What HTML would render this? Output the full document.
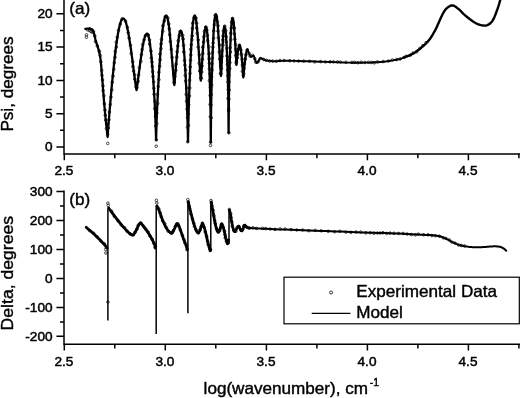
<!DOCTYPE html>
<html><head><meta charset="utf-8"><title>Ellipsometry Psi and Delta</title>
<style>html,body{margin:0;padding:0;background:#fff}svg{display:block}</style></head>
<body>
<svg width="520" height="398" viewBox="0 0 520 398">
<rect width="520" height="398" fill="#fff"/>
<g stroke="#000" stroke-width="1.5" fill="none" stroke-linecap="butt">
<path d="M64.0 0 V154.7 M63.3 154.0 H520"/>
<path d="M64.0 190.6 V345.0 M63.3 344.3 H520"/>
<path d="M64.3 154.0 v6.3 M165.3 154.0 v6.3 M266.4 154.0 v6.3 M367.4 154.0 v6.3 M468.4 154.0 v6.3 M114.8 154.0 v4.2 M215.8 154.0 v4.2 M316.9 154.0 v4.2 M417.9 154.0 v4.2 M518.9 154.0 v4.2 M64.3 344.3 v6.3 M165.3 344.3 v6.3 M266.4 344.3 v6.3 M367.4 344.3 v6.3 M468.4 344.3 v6.3 M114.8 344.3 v4.2 M215.8 344.3 v4.2 M316.9 344.3 v4.2 M417.9 344.3 v4.2 M518.9 344.3 v4.2"/>
<path d="M64.0 147.0 h-7.6 M64.0 113.7 h-7.6 M64.0 80.4 h-7.6 M64.0 47.1 h-7.6 M64.0 13.8 h-7.6 M64.0 130.3 h-4 M64.0 97.0 h-4 M64.0 63.8 h-4 M64.0 30.5 h-4 M64.0 336.3 h-7.6 M64.0 307.4 h-7.6 M64.0 278.4 h-7.6 M64.0 249.4 h-7.6 M64.0 220.5 h-7.6 M64.0 191.5 h-7.6 M64.0 321.9 h-4 M64.0 292.9 h-4 M64.0 263.9 h-4 M64.0 234.9 h-4 M64.0 206.0 h-4"/>
</g>
<g fill="none" stroke="#000" stroke-linejoin="round" stroke-linecap="round">
<path stroke-width="2.3" d="M85.3 28.8 L85.7 28.8 L86.2 28.8 L86.8 28.7 L87.4 28.7 L88.1 28.7 L88.8 28.7 L89.5 28.7 L90.0 28.8 L90.5 28.9 L90.9 29.0 L91.3 29.1 L91.7 29.2 L92.1 29.4 L92.5 29.7 L92.8 30.2 L93.2 30.8 L93.5 31.6 L93.8 32.6 L94.1 33.7 L94.4 35.0 L94.7 36.2 L95.0 37.6 L95.3 38.9 L95.6 40.1 L96.0 41.3 L96.3 42.5 L96.7 43.7 L97.1 44.9 L97.5 46.1 L97.9 47.4 L98.3 48.7 L98.6 50.0 L98.9 51.2 L99.2 52.2 L99.4 53.2 L99.7 54.2 L99.9 55.5 L100.2 57.1 L100.5 59.2 L100.8 62.0 L101.2 65.6 L101.5 70.0 L101.9 75.0 L102.4 80.4 L102.8 85.8 L103.2 91.0 L103.6 95.8 L103.9 100.0 L104.2 103.6 L104.5 106.8 L104.8 109.7 L105.0 112.4 L105.3 115.0 L105.5 117.4 L105.8 119.7 L106.0 122.0 L106.2 124.3 L106.5 126.6 L106.7 128.8 L106.9 130.9 L107.1 132.8 L107.3 134.5 L107.5 135.9 L107.6 137.0 L108.2 128.1 L108.9 119.9 L109.5 111.9 L110.2 104.2 L110.8 96.7 L111.5 89.4 L112.1 82.4 L112.8 75.7 L113.5 69.2 L114.1 63.0 L114.8 57.2 L115.4 51.7 L116.0 46.6 L116.7 41.9 L117.3 37.6 L118.0 33.6 L118.7 30.1 L119.3 27.1 L120.0 24.5 L120.6 22.3 L121.2 20.7 L121.9 19.5 L122.5 18.7 L123.2 18.5 L123.8 18.7 L124.3 19.2 L124.9 20.1 L125.4 21.3 L126.0 22.8 L126.5 24.7 L127.1 26.9 L127.6 29.4 L128.2 32.2 L128.7 35.2 L129.3 38.5 L129.8 42.0 L130.4 45.7 L131.0 49.6 L131.5 53.6 L132.1 57.8 L132.6 62.0 L133.2 66.3 L133.7 70.6 L134.3 74.9 L134.8 79.1 L135.4 83.1 L135.9 86.9 L136.5 90.0 L136.9 87.5 L137.4 84.6 L137.8 81.4 L138.2 78.1 L138.7 74.7 L139.1 71.3 L139.6 67.9 L140.0 64.6 L140.4 61.3 L140.9 58.1 L141.3 55.1 L141.8 52.1 L142.2 49.4 L142.6 46.8 L143.1 44.4 L143.5 42.2 L143.9 40.2 L144.4 38.5 L144.8 37.0 L145.2 35.8 L145.7 34.8 L146.1 34.2 L146.6 33.7 L147.0 33.6 L147.4 33.8 L147.8 34.3 L148.1 35.1 L148.5 36.3 L148.9 37.9 L149.3 39.7 L149.7 41.9 L150.0 44.5 L150.4 47.4 L150.8 50.6 L151.2 54.1 L151.6 58.0 L151.9 62.1 L152.3 66.7 L152.7 71.5 L153.1 76.7 L153.4 82.3 L153.8 88.2 L154.2 94.6 L154.6 101.4 L155.0 108.8 L155.3 116.9 L155.7 126.2 L156.1 140.0 L156.5 123.9 L156.9 113.0 L157.4 103.5 L157.8 94.8 L158.2 86.9 L158.6 79.4 L159.0 72.5 L159.5 66.0 L159.9 59.9 L160.3 54.2 L160.7 48.9 L161.1 44.0 L161.6 39.5 L162.0 35.3 L162.4 31.6 L162.8 28.2 L163.3 25.3 L163.7 22.7 L164.1 20.5 L164.5 18.7 L164.9 17.3 L165.4 16.3 L165.8 15.7 L166.2 15.5 L166.5 15.7 L166.9 16.2 L167.2 17.0 L167.5 18.2 L167.9 19.7 L168.2 21.5 L168.6 23.7 L168.9 26.1 L169.2 28.8 L169.6 31.7 L169.9 34.9 L170.2 38.3 L170.6 42.0 L170.9 45.7 L171.3 49.6 L171.6 53.7 L171.9 57.8 L172.3 62.0 L172.6 66.2 L173.0 70.3 L173.3 74.4 L173.6 78.3 L174.0 82.0 L174.3 85.0 L174.6 82.6 L174.8 79.8 L175.1 76.7 L175.4 73.5 L175.7 70.3 L175.9 67.0 L176.2 63.7 L176.5 60.5 L176.7 57.4 L177.0 54.3 L177.3 51.4 L177.6 48.5 L177.8 45.9 L178.1 43.4 L178.4 41.1 L178.6 39.0 L178.9 37.1 L179.2 35.4 L179.4 34.0 L179.7 32.8 L180.0 31.9 L180.3 31.2 L180.5 30.8 L180.8 30.7 L181.1 30.9 L181.4 31.4 L181.7 32.3 L182.0 33.6 L182.3 35.2 L182.6 37.1 L182.9 39.4 L183.2 42.1 L183.5 45.1 L183.8 48.4 L184.1 52.1 L184.4 56.1 L184.7 60.5 L185.0 65.2 L185.3 70.3 L185.6 75.7 L185.9 81.5 L186.2 87.7 L186.5 94.4 L186.8 101.5 L187.1 109.2 L187.4 117.7 L187.7 127.4 L188.0 141.8 L188.3 125.5 L188.6 114.4 L188.8 104.7 L189.1 96.0 L189.4 87.9 L189.7 80.3 L190.0 73.3 L190.2 66.7 L190.5 60.5 L190.8 54.8 L191.1 49.4 L191.3 44.4 L191.6 39.8 L191.9 35.6 L192.2 31.8 L192.5 28.4 L192.7 25.4 L193.0 22.8 L193.3 20.6 L193.6 18.7 L193.9 17.3 L194.1 16.3 L194.4 15.7 L194.7 15.5 L195.0 15.7 L195.2 16.1 L195.5 16.9 L195.7 18.0 L196.0 19.5 L196.2 21.2 L196.5 23.2 L196.7 25.4 L197.0 27.9 L197.2 30.7 L197.5 33.7 L197.8 36.9 L198.0 40.3 L198.3 43.8 L198.5 47.5 L198.8 51.3 L199.0 55.1 L199.3 59.0 L199.5 62.9 L199.8 66.8 L200.0 70.7 L200.3 74.3 L200.5 77.8 L200.8 80.6 L201.0 78.3 L201.2 75.4 L201.4 72.4 L201.7 69.2 L201.9 66.0 L202.1 62.7 L202.3 59.5 L202.5 56.3 L202.7 53.2 L202.9 50.1 L203.1 47.2 L203.4 44.4 L203.6 41.8 L203.8 39.3 L204.0 37.0 L204.2 34.9 L204.4 33.0 L204.6 31.4 L204.8 30.0 L205.1 28.8 L205.3 27.9 L205.5 27.2 L205.7 26.8 L205.9 26.7 L206.1 26.8 L206.3 27.2 L206.5 27.9 L206.7 28.9 L206.9 30.1 L207.1 31.6 L207.3 33.4 L207.5 35.5 L207.7 37.9 L207.9 40.5 L208.1 43.5 L208.4 46.8 L208.6 50.4 L208.8 54.3 L209.0 58.7 L209.2 63.4 L209.4 68.5 L209.6 74.2 L209.8 80.4 L210.0 87.4 L210.2 95.3 L210.4 104.6 L210.6 116.6 L210.8 142.4 L211.0 117.4 L211.2 104.6 L211.4 94.3 L211.6 85.4 L211.8 77.5 L212.1 70.3 L212.3 63.8 L212.5 57.8 L212.7 52.2 L212.9 47.1 L213.1 42.5 L213.3 38.2 L213.5 34.3 L213.7 30.7 L213.9 27.5 L214.1 24.7 L214.3 22.2 L214.6 20.1 L214.8 18.2 L215.0 16.7 L215.2 15.6 L215.4 14.8 L215.6 14.3 L215.8 14.1 L216.0 14.3 L216.2 14.7 L216.5 15.5 L216.7 16.5 L216.9 17.9 L217.1 19.5 L217.3 21.4 L217.5 23.5 L217.8 25.9 L218.0 28.6 L218.2 31.4 L218.4 34.4 L218.6 37.7 L218.8 41.0 L219.1 44.5 L219.3 48.1 L219.5 51.8 L219.7 55.5 L219.9 59.2 L220.1 62.9 L220.3 66.5 L220.6 70.0 L220.8 73.3 L221.0 76.0 L221.1 73.8 L221.3 71.2 L221.4 68.4 L221.6 65.5 L221.7 62.5 L221.9 59.5 L222.0 56.6 L222.2 53.6 L222.3 50.7 L222.5 47.9 L222.6 45.2 L222.8 42.6 L222.9 40.2 L223.0 37.9 L223.2 35.8 L223.3 33.9 L223.5 32.1 L223.6 30.6 L223.8 29.3 L223.9 28.2 L224.1 27.4 L224.2 26.8 L224.4 26.4 L224.5 26.3 L224.7 26.4 L224.8 26.8 L225.0 27.4 L225.2 28.3 L225.4 29.5 L225.5 30.8 L225.7 32.5 L225.9 34.4 L226.0 36.6 L226.2 39.1 L226.4 41.8 L226.6 44.8 L226.7 48.1 L226.9 51.8 L227.1 55.8 L227.2 60.1 L227.4 64.9 L227.6 70.1 L227.7 75.8 L227.9 82.3 L228.1 89.6 L228.3 98.2 L228.4 109.2 L228.6 133.0 L228.8 110.7 L228.9 99.2 L229.1 90.0 L229.2 82.0 L229.4 74.9 L229.6 68.5 L229.7 62.7 L229.9 57.3 L230.1 52.4 L230.2 47.8 L230.4 43.7 L230.6 39.8 L230.7 36.3 L230.9 33.2 L231.0 30.3 L231.2 27.8 L231.4 25.6 L231.5 23.6 L231.7 22.0 L231.8 20.7 L232.0 19.6 L232.2 18.9 L232.3 18.4 L232.5 18.3 L232.7 18.4 L232.8 18.7 L233.0 19.2 L233.2 19.9 L233.3 20.8 L233.5 21.8 L233.6 23.1 L233.8 24.5 L234.0 26.1 L234.1 27.9 L234.3 29.8 L234.4 31.9 L234.6 34.1 L234.8 36.5 L234.9 39.0 L235.1 41.5 L235.3 44.2 L235.4 47.0 L235.6 49.9 L235.8 52.8 L235.9 55.7 L236.1 58.7 L236.2 61.8 L236.4 64.8 L236.5 63.5 L236.7 62.2 L236.8 61.0 L236.9 59.7 L237.0 58.5 L237.2 57.3 L237.3 56.1 L237.4 54.9 L237.6 53.9 L237.7 52.8 L237.8 51.8 L237.9 50.9 L238.1 50.0 L238.2 49.2 L238.3 48.4 L238.5 47.7 L238.6 47.1 L238.7 46.6 L238.9 46.1 L239.0 45.8 L239.1 45.5 L239.2 45.3 L239.4 45.1 L239.5 45.1 L239.7 45.2 L239.8 45.4 L240.0 45.7 L240.1 46.2 L240.3 46.8 L240.4 47.6 L240.6 48.4 L240.8 49.4 L240.9 50.5 L241.1 51.8 L241.2 53.1 L241.4 54.6 L241.6 56.1 L241.7 57.7 L241.9 59.5 L242.0 61.2 L242.2 63.1 L242.4 65.0 L242.5 67.0 L242.7 69.0 L242.8 71.1 L243.0 73.2 L243.1 75.3 L243.3 77.4 L243.5 75.6 L243.7 73.8 L243.8 72.0 L244.0 70.2 L244.2 68.5 L244.4 66.8 L244.5 65.1 L244.7 63.5 L244.9 62.0 L245.1 60.5 L245.2 59.1 L245.4 57.7 L245.6 56.5 L245.8 55.3 L245.9 54.3 L246.1 53.3 L246.3 52.5 L246.4 51.7 L246.6 51.1 L246.8 50.5 L247.0 50.1 L247.2 49.8 L247.3 49.7 L247.5 49.6"/>
<path stroke-width="1.9" d="M247.5 49.6 L247.8 50.2 L248.1 51.1 L248.5 52.1 L249.0 53.3 L249.5 54.4 L249.9 55.4 L250.4 56.2 L250.8 56.8 L251.2 57.0 L251.5 56.9 L251.9 56.7 L252.2 56.3 L252.5 55.9 L252.9 55.7 L253.2 55.6 L253.6 55.8 L254.0 56.4 L254.4 57.3 L254.7 58.4 L255.1 59.6 L255.5 60.8 L256.0 61.9 L256.4 62.6 L256.8 63.0 L257.2 62.9 L257.7 62.5 L258.1 61.8 L258.6 60.9 L259.0 60.0 L259.5 59.2 L260.0 58.6 L260.5 58.2 L261.0 58.1 L261.6 58.3 L262.1 58.5 L262.7 58.9 L263.2 59.3 L263.8 59.6 L264.4 60.0 L265.0 60.2 L265.6 60.3 L266.2 60.5 L266.8 60.5 L267.5 60.6 L268.1 60.7 L268.7 60.7 L269.4 60.7 L270.0 60.8 L270.6 60.9 L271.0 60.9 L271.4 61.0 L271.9 61.1 L272.4 61.1 L273.0 61.2 L273.9 61.2 L275.0 61.2 L276.2 61.2 L277.5 61.1 L278.8 61.0 L280.3 61.0 L282.1 60.9 L284.3 60.8 L286.9 60.8 L290.0 60.8 L293.9 60.9 L298.6 61.0 L303.8 61.2 L309.4 61.3 L315.0 61.5 L320.5 61.7 L325.5 61.9 L330.0 62.0 L333.8 62.1 L337.3 62.2 L340.4 62.4 L343.4 62.5 L346.2 62.6 L349.1 62.6 L351.9 62.7 L355.0 62.7 L358.2 62.7 L361.5 62.7 L364.9 62.6 L368.3 62.6 L371.6 62.5 L374.8 62.3 L377.8 62.2 L380.6 62.0 L383.3 61.8 L385.8 61.5 L388.3 61.1 L390.6 60.7 L392.8 60.4 L394.7 60.0 L396.5 59.7 L398.0 59.4 L399.1 59.2 L399.9 59.1 L400.3 59.0 L400.6 58.9 L400.9 58.8 L401.2 58.6 L401.7 58.4 L402.6 58.0 L403.8 57.5 L405.1 57.0"/>
<path stroke-width="2.4" d="M405.1 57.0 L406.7 56.4 L408.3 55.8 L410.0 55.1 L411.7 54.3 L413.4 53.4 L415.0 52.4 L416.6 51.3 L418.3 50.1 L420.0 48.8 L421.6 47.4 L423.3 45.9 L424.9 44.5 L426.4 43.0 L427.7 41.6 L428.9 40.2 L430.0 38.9 L430.9 37.5 L431.8 36.1 L432.7 34.7 L433.5 33.2 L434.4 31.7 L435.3 30.0 L436.3 28.1 L437.2 26.0 L438.2 23.8 L439.2 21.6 L440.2 19.3 L441.1 17.3 L442.0 15.4 L442.8 13.8 L443.5 12.5 L444.2 11.5 L444.7 10.6 L445.3 9.8 L445.8 9.2 L446.3 8.6 L446.9 8.1 L447.5 7.6 L448.1 7.1 L448.8 6.7 L449.5 6.3 L450.1 5.9 L450.8 5.7 L451.5 5.5 L452.2 5.5 L452.9 5.5 L453.6 5.6 L454.3 5.9 L454.9 6.3 L455.6 6.7 L456.3 7.2 L457.0 7.8 L457.7 8.4 L458.5 9.0 L459.3 9.7 L460.1 10.4 L460.9 11.2 L461.7 12.1 L462.5 12.9 L463.4 13.8 L464.4 14.7 L465.4 15.6 L466.5 16.5 L467.7 17.5 L469.0 18.5 L470.3 19.6 L471.7 20.5 L473.0 21.5 L474.3 22.3 L475.5 23.0 L476.7 23.6 L477.9 24.1 L479.0 24.5 L480.2 24.9 L481.3 25.2 L482.3 25.4 L483.4 25.5 L484.3 25.6 L485.2 25.6 L486.0 25.5 L486.7 25.3 L487.5 25.1 L488.1 24.7 L488.8 24.4 L489.4 24.0 L490.0 23.5 L490.6 23.0 L491.1 22.5 L491.6 21.9 L492.1 21.3 L492.6 20.6 L493.0 19.8 L493.5 19.0 L494.0 18.0 L494.5 16.9 L495.0 15.6 L495.6 14.3 L496.1 12.9 L496.6 11.4 L497.1 10.0 L497.6 8.7 L498.0 7.5 L498.4 6.4 L498.7 5.3 L499.1 4.2 L499.4 3.2 L499.6 2.3 L499.8 1.5 L500.0 0.8 L500.2 0.3"/>
<path stroke-width="2.8" d="M86.2 227.3 L87.1 228.1 L88.4 229.2 L90.0 230.5 L91.6 231.9 L93.3 233.5 L95.0 235.0 L96.7 236.7 L98.6 238.6 L100.6 240.6 L102.4 242.6 L104.1 244.3 L105.3 245.6 L106.1 246.5 L106.6 247.1 L106.8 247.5 L106.9 247.7 L106.9 247.8 L107.0 248.0"/>
<path stroke-width="2.8" d="M108.6 208.0 L108.7 208.1 L108.6 208.1 L108.7 208.2 L108.8 208.4 L109.3 209.0 L110.0 210.0 L111.2 211.6 L112.8 213.7 L114.6 216.1 L116.5 218.6 L118.3 220.9 L120.0 223.0 L121.5 224.8 L122.9 226.5 L124.4 228.1 L125.7 229.6 L126.9 230.9 L128.0 232.0 L129.0 232.9 L129.8 233.6 L130.5 234.2 L131.2 234.6 L131.8 234.9 L132.4 235.0 L132.9 235.0 L133.4 234.8 L133.8 234.4 L134.1 233.9 L134.5 233.3 L135.0 232.6 L135.5 231.6 L136.1 230.4 L136.7 229.1 L137.3 227.8 L137.9 226.6 L138.4 225.6 L138.8 224.9 L139.2 224.2 L139.5 223.7 L139.8 223.3 L140.2 223.1 L140.5 223.0 L140.8 223.0 L141.0 223.1 L141.3 223.4 L141.6 223.8 L142.0 224.4 L142.6 225.2 L143.4 226.3 L144.4 227.6 L145.6 229.1 L146.8 230.7 L147.9 232.4 L149.0 234.0 L150.0 235.7 L151.1 237.6 L152.1 239.5 L153.1 241.4 L153.9 243.0 L154.6 244.4 L155.0 245.4 L155.3 246.2 L155.4 246.9 L155.5 247.3 L155.5 247.7 L155.6 248.0"/>
<path stroke-width="2.8" d="M157.0 206.0 L157.1 206.2 L157.3 206.4 L157.5 206.8 L157.7 207.2 L158.1 207.9 L158.5 209.0 L159.1 210.5 L159.8 212.5 L160.6 214.7 L161.4 217.0 L162.2 219.1 L163.0 221.0 L163.7 222.6 L164.4 224.1 L165.0 225.5 L165.7 226.8 L166.3 227.9 L167.0 229.0 L167.7 230.0 L168.5 231.0 L169.3 231.8 L170.1 232.5 L170.8 233.0 L171.4 233.3 L171.9 233.3 L172.3 233.0 L172.6 232.5 L172.9 231.9 L173.2 231.2 L173.6 230.5 L174.0 229.7 L174.4 228.8 L174.9 227.8 L175.3 226.8 L175.7 225.9 L176.0 225.2 L176.3 224.7 L176.5 224.3 L176.7 223.9 L176.9 223.7 L177.1 223.6 L177.3 223.6 L177.5 223.6 L177.6 223.5 L177.8 223.6 L178.0 223.9 L178.3 224.5 L178.8 225.6 L179.5 227.4 L180.4 229.8 L181.3 232.5 L182.3 235.3 L183.2 237.9 L184.0 240.0 L184.6 241.6 L185.1 243.0 L185.6 244.2 L186.0 245.3 L186.3 246.2 L186.6 247.0 L186.8 247.7 L187.0 248.3 L187.2 248.7 L187.3 249.0 L187.3 249.3 L187.4 249.5"/>
<path stroke-width="2.8" d="M188.5 202.0 L188.6 202.4 L188.7 203.0 L188.8 203.6 L188.9 204.5 L189.2 205.6 L189.5 207.0 L189.9 208.9 L190.5 211.2 L191.1 213.8 L191.8 216.4 L192.4 218.9 L193.0 221.0 L193.5 222.9 L194.1 224.6 L194.6 226.2 L195.1 227.6 L195.5 228.9 L196.0 230.0 L196.4 230.9 L196.8 231.6 L197.2 232.2 L197.6 232.6 L198.0 232.8 L198.3 232.9 L198.6 232.8 L198.9 232.4 L199.2 231.9 L199.5 231.3 L199.7 230.6 L200.0 230.0 L200.3 229.3 L200.5 228.5 L200.8 227.7 L201.0 226.9 L201.3 226.1 L201.5 225.5 L201.7 224.9 L201.9 224.4 L202.1 223.9 L202.2 223.5 L202.4 223.4 L202.7 223.6 L203.0 224.1 L203.4 224.9 L203.7 225.9 L204.1 227.1 L204.6 228.5 L205.0 230.0 L205.5 231.8 L206.0 234.1 L206.5 236.4 L207.0 238.8 L207.5 241.1 L208.0 243.0 L208.4 244.6 L208.8 246.2 L209.2 247.5 L209.5 248.7 L209.8 249.7 L210.0 250.4 L210.2 250.8 L210.3 250.8 L210.4 250.7 L210.5 250.4 L210.6 250.1 L210.6 250.0"/>
<path stroke-width="2.8" d="M211.2 202.0 L211.3 202.3 L211.3 202.7 L211.4 203.1 L211.6 203.8 L211.8 204.7 L212.0 206.0 L212.3 207.8 L212.7 210.1 L213.2 212.7 L213.6 215.3 L214.1 217.8 L214.5 220.0 L214.9 221.9 L215.2 223.6 L215.5 225.2 L215.9 226.6 L216.2 227.9 L216.5 229.0 L216.8 230.0 L217.2 230.8 L217.5 231.4 L217.8 231.9 L218.1 232.2 L218.4 232.3 L218.7 232.1 L219.0 231.7 L219.3 231.1 L219.5 230.4 L219.8 229.6 L220.0 229.0 L220.2 228.4 L220.4 227.8 L220.5 227.1 L220.7 226.5 L220.8 226.0 L221.0 225.5 L221.2 225.0 L221.3 224.6 L221.4 224.2 L221.6 223.9 L221.8 223.8 L222.0 224.0 L222.3 224.5 L222.6 225.3 L222.9 226.3 L223.3 227.5 L223.7 228.7 L224.0 230.0 L224.3 231.4 L224.7 232.9 L225.0 234.6 L225.4 236.2 L225.7 237.7 L226.0 239.0 L226.3 240.1 L226.6 241.2 L226.8 242.2 L227.1 243.0 L227.3 243.5 L227.5 243.8 L227.7 243.6 L227.9 243.0 L228.1 242.2 L228.3 241.3 L228.4 240.5 L228.5 240.0"/>
<path stroke-width="2.7" d="M229.3 210.0 L229.4 210.3 L229.6 210.7 L229.8 211.2 L230.0 211.9 L230.2 212.8 L230.5 214.0 L230.8 215.6 L231.1 217.6 L231.4 219.9 L231.8 222.2 L232.2 224.3 L232.5 226.0 L232.8 227.4 L233.2 228.7 L233.5 229.8 L233.8 230.7 L234.2 231.3 L234.5 231.7 L234.8 231.7 L235.2 231.4 L235.5 230.9 L235.8 230.2 L236.2 229.6 L236.5 229.0 L236.8 228.5 L237.2 227.8 L237.5 227.2 L237.9 226.6 L238.2 226.2 L238.5 226.0 L238.8 226.1 L239.0 226.4 L239.3 226.9 L239.5 227.5 L239.8 228.0 L240.0 228.5 L240.2 229.0 L240.5 229.5 L240.8 230.0 L241.0 230.5 L241.2 230.8 L241.5 231.0 L241.7 231.0 L242.0 230.7 L242.2 230.4 L242.5 230.0 L242.7 229.5 L243.0 229.0 L243.3 228.4 L243.5 227.6 L243.8 226.8 L244.0 226.0 L244.3 225.3 L244.6 225.0 L244.9 225.0 L245.2 225.3 L245.5 225.7 L245.8 226.2 L246.2 226.7 L246.5 227.0 L246.8 227.2 L247.1 227.4 L247.4 227.6 L247.8 227.8 L248.1 227.9 L248.6 228.0 L249.0 228.1 L249.3 228.1 L249.6 228.1 L250.2 228.1"/>
<path stroke-width="2.0" d="M250.2 228.1 L251.1 228.1 L252.6 228.2 L254.5 228.3 L256.8 228.4 L259.5 228.5 L262.5 228.7 L266.0 228.8 L270.0 229.0 L274.6 229.2 L279.7 229.4 L285.3 229.6 L291.1 229.8 L297.1 230.0 L303.0 230.2 L309.0 230.4 L315.3 230.7 L321.7 230.9 L328.0 231.1 L334.2 231.4 L340.0 231.6 L345.5 231.8 L350.9 232.0 L356.1 232.2 L361.0 232.4 L365.7 232.6 L370.0 232.7 L373.9 232.8 L377.2 232.9 L380.3 232.9 L383.3 233.0 L386.5 233.1 L390.0 233.2 L394.0 233.4 L398.3 233.6 L402.8 233.8 L407.2 234.0 L411.4 234.2 L415.0 234.4 L418.2 234.5 L421.0 234.7 L423.6 234.8 L425.9 234.9 L428.0 235.0 L430.0 235.1 L431.8 235.2 L433.3 235.3 L434.6 235.5 L435.7 235.6 L436.8 235.7 L437.8 235.9 L438.7 236.0 L439.4 236.2 L440.0 236.3 L440.6 236.5 L441.2 236.7 L442.0 237.0 L442.9 237.4 L443.8 237.8 L444.8 238.2 L445.8 238.7 L446.8 239.2 L447.8 239.7 L448.8 240.2 L449.8 240.7 L450.9 241.3 L451.9 241.8 L453.0 242.3 L454.0 242.8 L455.1 243.3 L456.1 243.7 L457.2 244.2 L458.2 244.6 L459.3 245.0 L460.4 245.3 L461.5 245.6 L462.5 245.8 L463.6 246.1 L464.7 246.3 L465.8 246.4 L467.0 246.6 L468.3 246.8 L469.7 246.9 L471.2 247.0 L472.7 247.2 L474.1 247.2 L475.5 247.3 L476.8 247.3 L478.1 247.3 L479.3 247.3 L480.5 247.2 L481.8 247.2 L483.0 247.1 L484.3 247.0 L485.6 246.9 L486.9 246.8 L488.2 246.7 L489.5 246.6 L490.6 246.5 L491.6 246.4 L492.6 246.4 L493.5 246.3 L494.3 246.3 L495.2 246.3 L496.0 246.3 L496.8 246.4 L497.6 246.4 L498.4 246.5 L499.2 246.7 L499.9 246.8 L500.6 247.0 L501.3 247.2 L501.9 247.5 L502.5 247.8 L503.0 248.1 L503.5 248.4 L504.0 248.7 L504.5 249.1 L504.9 249.4 L505.3 249.9 L505.7 250.2 L506.0 250.6 L506.2 250.8"/>
<path stroke-width="1.5" stroke-linecap="butt" d="M107.9 208.5 V320.4"/>
<path stroke-width="1.5" stroke-linecap="butt" d="M156.2 205.5 V334"/>
<path stroke-width="1.5" stroke-linecap="butt" d="M187.9 202.5 V313.3"/>
<path stroke-width="1.5" stroke-linecap="butt" d="M210.8 202.5 V250.4"/>
<path stroke-width="1.5" stroke-linecap="butt" d="M229.0 210.5 V243.8"/>
</g>
<g fill="none" stroke="#000" stroke-width="0.7">
<circle cx="89.8" cy="28.8" r="1.3"/>
<circle cx="93.4" cy="31.7" r="1.3"/>
<circle cx="94.8" cy="35.9" r="1.3"/>
<circle cx="95.5" cy="41.6" r="1.3"/>
<circle cx="97.3" cy="45.9" r="1.3"/>
<circle cx="99.4" cy="51.2" r="1.3"/>
<circle cx="100.2" cy="55.5" r="1.3"/>
<circle cx="100.9" cy="61.7" r="1.3"/>
<circle cx="101.7" cy="70.4" r="1.3"/>
<circle cx="102.0" cy="75.3" r="1.3"/>
<circle cx="102.5" cy="80.0" r="1.3"/>
<circle cx="103.0" cy="85.9" r="1.3"/>
<circle cx="103.0" cy="90.6" r="1.3"/>
<circle cx="103.9" cy="95.8" r="1.3"/>
<circle cx="104.4" cy="103.9" r="1.3"/>
<circle cx="105.0" cy="110.1" r="1.3"/>
<circle cx="105.2" cy="115.2" r="1.3"/>
<circle cx="105.7" cy="120.1" r="1.3"/>
<circle cx="106.6" cy="124.0" r="1.3"/>
<circle cx="106.4" cy="128.5" r="1.3"/>
<circle cx="107.7" cy="134.4" r="1.3"/>
<circle cx="108.4" cy="127.9" r="1.3"/>
<circle cx="108.9" cy="119.8" r="1.3"/>
<circle cx="109.4" cy="112.0" r="1.3"/>
<circle cx="110.3" cy="104.5" r="1.3"/>
<circle cx="111.0" cy="97.1" r="1.3"/>
<circle cx="111.8" cy="89.9" r="1.3"/>
<circle cx="112.3" cy="82.1" r="1.3"/>
<circle cx="113.1" cy="76.1" r="1.3"/>
<circle cx="113.8" cy="69.3" r="1.3"/>
<circle cx="114.3" cy="62.8" r="1.3"/>
<circle cx="115.0" cy="57.3" r="1.3"/>
<circle cx="115.2" cy="51.4" r="1.3"/>
<circle cx="116.4" cy="47.1" r="1.3"/>
<circle cx="116.3" cy="42.2" r="1.3"/>
<circle cx="117.3" cy="37.2" r="1.3"/>
<circle cx="118.5" cy="30.4" r="1.3"/>
<circle cx="120.3" cy="24.1" r="1.3"/>
<circle cx="122.0" cy="19.1" r="1.3"/>
<circle cx="125.6" cy="21.1" r="1.3"/>
<circle cx="127.4" cy="27.3" r="1.3"/>
<circle cx="128.2" cy="32.6" r="1.3"/>
<circle cx="129.1" cy="38.1" r="1.3"/>
<circle cx="130.5" cy="45.3" r="1.3"/>
<circle cx="131.2" cy="53.5" r="1.3"/>
<circle cx="132.7" cy="61.7" r="1.3"/>
<circle cx="132.8" cy="66.6" r="1.3"/>
<circle cx="133.6" cy="71.0" r="1.3"/>
<circle cx="134.6" cy="74.8" r="1.3"/>
<circle cx="134.8" cy="79.1" r="1.3"/>
<circle cx="136.1" cy="87.0" r="1.3"/>
<circle cx="137.0" cy="87.7" r="1.3"/>
<circle cx="138.2" cy="81.4" r="1.3"/>
<circle cx="138.6" cy="74.9" r="1.3"/>
<circle cx="139.3" cy="67.7" r="1.3"/>
<circle cx="140.9" cy="61.3" r="1.3"/>
<circle cx="141.4" cy="54.6" r="1.3"/>
<circle cx="142.1" cy="49.4" r="1.3"/>
<circle cx="142.6" cy="44.5" r="1.3"/>
<circle cx="144.1" cy="39.8" r="1.3"/>
<circle cx="145.4" cy="35.8" r="1.3"/>
<circle cx="148.3" cy="35.0" r="1.3"/>
<circle cx="149.5" cy="39.9" r="1.3"/>
<circle cx="149.6" cy="44.1" r="1.3"/>
<circle cx="151.0" cy="51.0" r="1.3"/>
<circle cx="151.3" cy="57.9" r="1.3"/>
<circle cx="152.0" cy="62.0" r="1.3"/>
<circle cx="152.2" cy="66.5" r="1.3"/>
<circle cx="152.6" cy="71.6" r="1.3"/>
<circle cx="152.9" cy="76.6" r="1.3"/>
<circle cx="153.7" cy="81.9" r="1.3"/>
<circle cx="153.9" cy="88.4" r="1.3"/>
<circle cx="154.0" cy="94.3" r="1.3"/>
<circle cx="154.9" cy="101.2" r="1.3"/>
<circle cx="154.7" cy="108.7" r="1.3"/>
<circle cx="155.5" cy="116.5" r="1.3"/>
<circle cx="155.6" cy="126.1" r="1.3"/>
<circle cx="156.4" cy="139.9" r="1.3"/>
<circle cx="156.8" cy="123.6" r="1.3"/>
<circle cx="156.8" cy="113.1" r="1.3"/>
<circle cx="157.7" cy="103.4" r="1.3"/>
<circle cx="157.5" cy="94.5" r="1.3"/>
<circle cx="158.2" cy="86.6" r="1.3"/>
<circle cx="158.9" cy="79.7" r="1.3"/>
<circle cx="158.8" cy="72.3" r="1.3"/>
<circle cx="159.7" cy="66.1" r="1.3"/>
<circle cx="160.2" cy="59.7" r="1.3"/>
<circle cx="160.0" cy="54.0" r="1.3"/>
<circle cx="161.0" cy="48.7" r="1.3"/>
<circle cx="161.0" cy="43.9" r="1.3"/>
<circle cx="161.5" cy="39.4" r="1.3"/>
<circle cx="162.8" cy="31.3" r="1.3"/>
<circle cx="162.8" cy="25.7" r="1.3"/>
<circle cx="164.4" cy="20.9" r="1.3"/>
<circle cx="165.3" cy="16.7" r="1.3"/>
<circle cx="167.9" cy="18.0" r="1.3"/>
<circle cx="168.8" cy="24.0" r="1.3"/>
<circle cx="169.4" cy="28.8" r="1.3"/>
<circle cx="169.7" cy="34.8" r="1.3"/>
<circle cx="170.3" cy="41.6" r="1.3"/>
<circle cx="171.3" cy="49.5" r="1.3"/>
<circle cx="172.2" cy="57.4" r="1.3"/>
<circle cx="173.0" cy="66.3" r="1.3"/>
<circle cx="173.7" cy="74.7" r="1.3"/>
<circle cx="174.3" cy="82.0" r="1.3"/>
<circle cx="174.1" cy="82.9" r="1.3"/>
<circle cx="174.8" cy="76.5" r="1.3"/>
<circle cx="175.8" cy="70.3" r="1.3"/>
<circle cx="176.1" cy="64.1" r="1.3"/>
<circle cx="176.8" cy="57.2" r="1.3"/>
<circle cx="177.1" cy="51.7" r="1.3"/>
<circle cx="177.8" cy="46.1" r="1.3"/>
<circle cx="178.2" cy="40.8" r="1.3"/>
<circle cx="179.2" cy="35.7" r="1.3"/>
<circle cx="180.0" cy="31.5" r="1.3"/>
<circle cx="182.7" cy="35.4" r="1.3"/>
<circle cx="183.2" cy="39.0" r="1.3"/>
<circle cx="183.6" cy="45.4" r="1.3"/>
<circle cx="183.7" cy="51.9" r="1.3"/>
<circle cx="184.5" cy="60.5" r="1.3"/>
<circle cx="184.9" cy="65.2" r="1.3"/>
<circle cx="185.5" cy="69.9" r="1.3"/>
<circle cx="185.2" cy="75.4" r="1.3"/>
<circle cx="185.6" cy="81.2" r="1.3"/>
<circle cx="186.6" cy="88.1" r="1.3"/>
<circle cx="186.1" cy="94.4" r="1.3"/>
<circle cx="186.6" cy="101.3" r="1.3"/>
<circle cx="187.0" cy="109.3" r="1.3"/>
<circle cx="187.5" cy="117.5" r="1.3"/>
<circle cx="187.4" cy="127.3" r="1.3"/>
<circle cx="187.7" cy="141.8" r="1.3"/>
<circle cx="188.5" cy="125.4" r="1.3"/>
<circle cx="188.2" cy="114.1" r="1.3"/>
<circle cx="188.7" cy="104.8" r="1.3"/>
<circle cx="189.4" cy="95.9" r="1.3"/>
<circle cx="189.7" cy="88.0" r="1.3"/>
<circle cx="189.6" cy="80.2" r="1.3"/>
<circle cx="190.0" cy="73.5" r="1.3"/>
<circle cx="190.2" cy="66.9" r="1.3"/>
<circle cx="190.5" cy="60.3" r="1.3"/>
<circle cx="190.8" cy="54.9" r="1.3"/>
<circle cx="190.7" cy="49.3" r="1.3"/>
<circle cx="191.3" cy="44.8" r="1.3"/>
<circle cx="192.0" cy="39.7" r="1.3"/>
<circle cx="192.3" cy="35.9" r="1.3"/>
<circle cx="192.3" cy="28.4" r="1.3"/>
<circle cx="192.7" cy="23.1" r="1.3"/>
<circle cx="194.0" cy="17.7" r="1.3"/>
<circle cx="196.0" cy="18.2" r="1.3"/>
<circle cx="196.7" cy="23.2" r="1.3"/>
<circle cx="196.6" cy="28.0" r="1.3"/>
<circle cx="197.1" cy="33.4" r="1.3"/>
<circle cx="198.3" cy="39.9" r="1.3"/>
<circle cx="198.1" cy="47.1" r="1.3"/>
<circle cx="199.4" cy="54.8" r="1.3"/>
<circle cx="199.1" cy="63.3" r="1.3"/>
<circle cx="199.7" cy="71.0" r="1.3"/>
<circle cx="200.7" cy="78.1" r="1.3"/>
<circle cx="201.4" cy="78.3" r="1.3"/>
<circle cx="201.7" cy="72.0" r="1.3"/>
<circle cx="202.1" cy="66.0" r="1.3"/>
<circle cx="202.5" cy="59.2" r="1.3"/>
<circle cx="202.9" cy="53.6" r="1.3"/>
<circle cx="202.7" cy="47.1" r="1.3"/>
<circle cx="203.6" cy="42.1" r="1.3"/>
<circle cx="203.8" cy="36.7" r="1.3"/>
<circle cx="204.4" cy="31.5" r="1.3"/>
<circle cx="205.7" cy="27.1" r="1.3"/>
<circle cx="206.8" cy="30.0" r="1.3"/>
<circle cx="207.4" cy="35.4" r="1.3"/>
<circle cx="207.6" cy="40.5" r="1.3"/>
<circle cx="208.8" cy="46.7" r="1.3"/>
<circle cx="209.0" cy="54.0" r="1.3"/>
<circle cx="209.1" cy="58.9" r="1.3"/>
<circle cx="209.3" cy="63.4" r="1.3"/>
<circle cx="209.4" cy="68.7" r="1.3"/>
<circle cx="209.9" cy="73.9" r="1.3"/>
<circle cx="209.4" cy="80.6" r="1.3"/>
<circle cx="210.4" cy="87.4" r="1.3"/>
<circle cx="210.1" cy="95.5" r="1.3"/>
<circle cx="210.1" cy="104.4" r="1.3"/>
<circle cx="210.3" cy="116.7" r="1.3"/>
<circle cx="210.6" cy="142.2" r="1.3"/>
<circle cx="211.2" cy="117.8" r="1.3"/>
<circle cx="211.0" cy="104.8" r="1.3"/>
<circle cx="211.3" cy="94.6" r="1.3"/>
<circle cx="211.7" cy="85.2" r="1.3"/>
<circle cx="211.6" cy="77.0" r="1.3"/>
<circle cx="212.0" cy="70.2" r="1.3"/>
<circle cx="212.0" cy="63.6" r="1.3"/>
<circle cx="212.3" cy="58.0" r="1.3"/>
<circle cx="212.4" cy="52.7" r="1.3"/>
<circle cx="212.9" cy="47.2" r="1.3"/>
<circle cx="213.1" cy="42.8" r="1.3"/>
<circle cx="213.6" cy="38.2" r="1.3"/>
<circle cx="213.7" cy="30.9" r="1.3"/>
<circle cx="214.5" cy="24.6" r="1.3"/>
<circle cx="214.8" cy="20.5" r="1.3"/>
<circle cx="215.1" cy="15.3" r="1.3"/>
<circle cx="216.4" cy="16.7" r="1.3"/>
<circle cx="217.5" cy="21.8" r="1.3"/>
<circle cx="218.1" cy="25.7" r="1.3"/>
<circle cx="217.9" cy="31.2" r="1.3"/>
<circle cx="218.3" cy="37.8" r="1.3"/>
<circle cx="219.4" cy="44.9" r="1.3"/>
<circle cx="219.3" cy="52.1" r="1.3"/>
<circle cx="219.7" cy="59.1" r="1.3"/>
<circle cx="220.6" cy="66.2" r="1.3"/>
<circle cx="220.4" cy="73.6" r="1.3"/>
<circle cx="221.0" cy="73.7" r="1.3"/>
<circle cx="221.5" cy="68.6" r="1.3"/>
<circle cx="221.3" cy="62.4" r="1.3"/>
<circle cx="222.0" cy="56.5" r="1.3"/>
<circle cx="222.1" cy="50.8" r="1.3"/>
<circle cx="223.0" cy="45.1" r="1.3"/>
<circle cx="222.9" cy="39.9" r="1.3"/>
<circle cx="223.0" cy="36.0" r="1.3"/>
<circle cx="223.3" cy="31.0" r="1.3"/>
<circle cx="224.7" cy="26.1" r="1.3"/>
<circle cx="225.9" cy="30.7" r="1.3"/>
<circle cx="226.3" cy="36.8" r="1.3"/>
<circle cx="226.2" cy="42.0" r="1.3"/>
<circle cx="226.9" cy="48.4" r="1.3"/>
<circle cx="226.9" cy="56.0" r="1.3"/>
<circle cx="227.6" cy="60.3" r="1.3"/>
<circle cx="227.4" cy="64.5" r="1.3"/>
<circle cx="227.6" cy="70.0" r="1.3"/>
<circle cx="227.9" cy="76.0" r="1.3"/>
<circle cx="228.0" cy="82.0" r="1.3"/>
<circle cx="228.2" cy="89.7" r="1.3"/>
<circle cx="228.0" cy="98.5" r="1.3"/>
<circle cx="228.6" cy="108.9" r="1.3"/>
<circle cx="229.0" cy="132.7" r="1.3"/>
<circle cx="228.6" cy="110.9" r="1.3"/>
<circle cx="229.0" cy="99.2" r="1.3"/>
<circle cx="229.2" cy="89.9" r="1.3"/>
<circle cx="229.1" cy="81.7" r="1.3"/>
<circle cx="229.0" cy="75.1" r="1.3"/>
<circle cx="229.8" cy="68.6" r="1.3"/>
<circle cx="230.0" cy="62.6" r="1.3"/>
<circle cx="229.7" cy="57.2" r="1.3"/>
<circle cx="230.4" cy="52.0" r="1.3"/>
<circle cx="230.2" cy="47.6" r="1.3"/>
<circle cx="230.8" cy="39.7" r="1.3"/>
<circle cx="230.7" cy="33.1" r="1.3"/>
<circle cx="231.2" cy="28.0" r="1.3"/>
<circle cx="231.6" cy="22.3" r="1.3"/>
<circle cx="232.5" cy="18.5" r="1.3"/>
<circle cx="233.3" cy="22.7" r="1.3"/>
<circle cx="234.4" cy="28.1" r="1.3"/>
<circle cx="234.3" cy="33.9" r="1.3"/>
<circle cx="234.9" cy="39.2" r="1.3"/>
<circle cx="235.5" cy="44.5" r="1.3"/>
<circle cx="235.7" cy="49.5" r="1.3"/>
<circle cx="235.8" cy="55.5" r="1.3"/>
<circle cx="236.3" cy="61.8" r="1.3"/>
<circle cx="236.3" cy="63.3" r="1.3"/>
<circle cx="237.3" cy="58.0" r="1.3"/>
<circle cx="237.8" cy="54.2" r="1.3"/>
<circle cx="238.6" cy="49.1" r="1.3"/>
<circle cx="239.4" cy="45.2" r="1.3"/>
<circle cx="240.9" cy="49.9" r="1.3"/>
<circle cx="241.6" cy="54.4" r="1.3"/>
<circle cx="242.2" cy="59.4" r="1.3"/>
<circle cx="242.4" cy="65.2" r="1.3"/>
<circle cx="242.4" cy="71.3" r="1.3"/>
<circle cx="243.3" cy="75.3" r="1.3"/>
<circle cx="243.7" cy="73.7" r="1.3"/>
<circle cx="243.9" cy="68.5" r="1.3"/>
<circle cx="244.3" cy="63.5" r="1.3"/>
<circle cx="245.4" cy="59.0" r="1.3"/>
<circle cx="246.0" cy="54.7" r="1.3"/>
<circle cx="247.3" cy="49.8" r="1.3"/>
<circle cx="249.2" cy="53.4" r="1.3"/>
<circle cx="250.0" cy="56.1" r="1.3"/>
<circle cx="252.6" cy="55.3" r="1.3"/>
<circle cx="254.8" cy="58.8" r="1.3"/>
<circle cx="255.8" cy="62.2" r="1.3"/>
<circle cx="258.3" cy="61.5" r="1.3"/>
<circle cx="260.3" cy="58.6" r="1.3"/>
<circle cx="263.6" cy="59.4" r="1.3"/>
<circle cx="266.4" cy="60.3" r="1.3"/>
<circle cx="269.6" cy="61.1" r="1.3"/>
<circle cx="272.7" cy="61.1" r="1.3"/>
<circle cx="276.5" cy="61.2" r="1.3"/>
<circle cx="280.0" cy="60.5" r="1.3"/>
<circle cx="283.9" cy="60.5" r="1.3"/>
<circle cx="289.7" cy="60.8" r="1.3"/>
<circle cx="294.1" cy="60.9" r="1.3"/>
<circle cx="298.5" cy="61.1" r="1.3"/>
<circle cx="303.7" cy="61.1" r="1.3"/>
<circle cx="309.6" cy="61.2" r="1.3"/>
<circle cx="314.7" cy="61.9" r="1.3"/>
<circle cx="320.7" cy="61.6" r="1.3"/>
<circle cx="325.4" cy="61.9" r="1.3"/>
<circle cx="330.1" cy="61.8" r="1.3"/>
<circle cx="333.4" cy="61.9" r="1.3"/>
<circle cx="337.5" cy="61.9" r="1.3"/>
<circle cx="340.4" cy="62.1" r="1.3"/>
<circle cx="346.0" cy="62.3" r="1.3"/>
<circle cx="351.9" cy="62.4" r="1.3"/>
<circle cx="354.6" cy="62.3" r="1.3"/>
<circle cx="357.9" cy="62.7" r="1.3"/>
<circle cx="361.2" cy="62.2" r="1.3"/>
<circle cx="364.9" cy="62.5" r="1.3"/>
<circle cx="368.5" cy="62.2" r="1.3"/>
<circle cx="371.5" cy="62.4" r="1.3"/>
<circle cx="374.3" cy="62.8" r="1.3"/>
<circle cx="377.5" cy="61.8" r="1.3"/>
<circle cx="383.2" cy="61.5" r="1.3"/>
<circle cx="388.4" cy="61.0" r="1.3"/>
<circle cx="392.4" cy="60.0" r="1.3"/>
<circle cx="396.7" cy="59.5" r="1.3"/>
<circle cx="400.1" cy="59.0" r="1.3"/>
<circle cx="404.2" cy="57.4" r="1.3"/>
<circle cx="406.4" cy="56.2" r="1.3"/>
<circle cx="410.3" cy="55.2" r="1.3"/>
<circle cx="413.2" cy="53.0" r="1.3"/>
<circle cx="416.8" cy="51.7" r="1.3"/>
<circle cx="420.0" cy="48.3" r="1.3"/>
<circle cx="422.9" cy="45.6" r="1.3"/>
<circle cx="426.1" cy="42.6" r="1.3"/>
<circle cx="89.6" cy="230.6" r="1.3"/>
<circle cx="93.7" cy="233.2" r="1.3"/>
<circle cx="97.2" cy="236.7" r="1.3"/>
<circle cx="100.9" cy="241.0" r="1.3"/>
<circle cx="104.5" cy="243.9" r="1.3"/>
<circle cx="106.4" cy="247.2" r="1.3"/>
<circle cx="111.6" cy="211.2" r="1.3"/>
<circle cx="114.4" cy="216.4" r="1.3"/>
<circle cx="118.0" cy="220.8" r="1.3"/>
<circle cx="121.3" cy="225.0" r="1.3"/>
<circle cx="124.7" cy="227.8" r="1.3"/>
<circle cx="127.1" cy="231.1" r="1.3"/>
<circle cx="130.1" cy="233.7" r="1.3"/>
<circle cx="133.3" cy="234.8" r="1.3"/>
<circle cx="134.9" cy="232.4" r="1.3"/>
<circle cx="137.0" cy="229.1" r="1.3"/>
<circle cx="138.2" cy="225.3" r="1.3"/>
<circle cx="140.7" cy="223.1" r="1.3"/>
<circle cx="143.6" cy="226.2" r="1.3"/>
<circle cx="145.6" cy="228.8" r="1.3"/>
<circle cx="148.1" cy="231.9" r="1.3"/>
<circle cx="150.0" cy="236.0" r="1.3"/>
<circle cx="152.3" cy="239.2" r="1.3"/>
<circle cx="153.7" cy="243.4" r="1.3"/>
<circle cx="155.4" cy="246.6" r="1.3"/>
<circle cx="158.8" cy="209.0" r="1.3"/>
<circle cx="160.2" cy="212.7" r="1.3"/>
<circle cx="161.3" cy="216.8" r="1.3"/>
<circle cx="162.6" cy="220.9" r="1.3"/>
<circle cx="164.8" cy="223.7" r="1.3"/>
<circle cx="166.4" cy="227.6" r="1.3"/>
<circle cx="168.1" cy="231.1" r="1.3"/>
<circle cx="171.2" cy="232.9" r="1.3"/>
<circle cx="173.3" cy="230.6" r="1.3"/>
<circle cx="175.4" cy="226.3" r="1.3"/>
<circle cx="176.6" cy="224.2" r="1.3"/>
<circle cx="178.5" cy="225.7" r="1.3"/>
<circle cx="180.3" cy="230.0" r="1.3"/>
<circle cx="182.4" cy="235.5" r="1.3"/>
<circle cx="184.0" cy="239.7" r="1.3"/>
<circle cx="184.8" cy="242.7" r="1.3"/>
<circle cx="186.6" cy="245.8" r="1.3"/>
<circle cx="186.9" cy="249.7" r="1.3"/>
<circle cx="188.9" cy="205.9" r="1.3"/>
<circle cx="189.6" cy="208.8" r="1.3"/>
<circle cx="190.9" cy="214.0" r="1.3"/>
<circle cx="192.5" cy="219.0" r="1.3"/>
<circle cx="193.8" cy="223.2" r="1.3"/>
<circle cx="194.4" cy="226.3" r="1.3"/>
<circle cx="196.0" cy="229.6" r="1.3"/>
<circle cx="198.3" cy="232.9" r="1.3"/>
<circle cx="200.3" cy="229.7" r="1.3"/>
<circle cx="201.1" cy="226.8" r="1.3"/>
<circle cx="202.4" cy="223.1" r="1.3"/>
<circle cx="204.0" cy="227.1" r="1.3"/>
<circle cx="205.1" cy="231.9" r="1.3"/>
<circle cx="206.7" cy="236.4" r="1.3"/>
<circle cx="207.7" cy="241.2" r="1.3"/>
<circle cx="208.2" cy="244.5" r="1.3"/>
<circle cx="209.9" cy="248.6" r="1.3"/>
<circle cx="210.5" cy="249.6" r="1.3"/>
<circle cx="211.7" cy="205.7" r="1.3"/>
<circle cx="213.1" cy="210.3" r="1.3"/>
<circle cx="214.0" cy="215.8" r="1.3"/>
<circle cx="214.6" cy="220.4" r="1.3"/>
<circle cx="215.2" cy="223.5" r="1.3"/>
<circle cx="216.6" cy="228.3" r="1.3"/>
<circle cx="217.9" cy="231.4" r="1.3"/>
<circle cx="219.8" cy="230.3" r="1.3"/>
<circle cx="221.0" cy="227.5" r="1.3"/>
<circle cx="221.4" cy="224.3" r="1.3"/>
<circle cx="223.0" cy="227.1" r="1.3"/>
<circle cx="224.5" cy="231.2" r="1.3"/>
<circle cx="225.0" cy="234.7" r="1.3"/>
<circle cx="225.3" cy="237.9" r="1.3"/>
<circle cx="226.4" cy="241.2" r="1.3"/>
<circle cx="227.8" cy="243.2" r="1.3"/>
<circle cx="230.7" cy="213.8" r="1.3"/>
<circle cx="230.8" cy="217.5" r="1.3"/>
<circle cx="231.7" cy="221.8" r="1.3"/>
<circle cx="232.2" cy="226.2" r="1.3"/>
<circle cx="233.7" cy="230.2" r="1.3"/>
<circle cx="235.9" cy="231.2" r="1.3"/>
<circle cx="237.1" cy="227.5" r="1.3"/>
<circle cx="239.1" cy="226.9" r="1.3"/>
<circle cx="240.8" cy="230.1" r="1.3"/>
<circle cx="242.6" cy="229.8" r="1.3"/>
<circle cx="243.8" cy="225.9" r="1.3"/>
<circle cx="246.5" cy="226.9" r="1.3"/>
<circle cx="248.8" cy="227.8" r="1.3"/>
<circle cx="252.9" cy="227.8" r="1.3"/>
<circle cx="256.5" cy="228.4" r="1.3"/>
<circle cx="262.6" cy="228.4" r="1.3"/>
<circle cx="265.6" cy="228.6" r="1.3"/>
<circle cx="270.2" cy="229.0" r="1.3"/>
<circle cx="275.0" cy="229.4" r="1.3"/>
<circle cx="280.1" cy="228.9" r="1.3"/>
<circle cx="285.0" cy="229.1" r="1.3"/>
<circle cx="291.1" cy="229.6" r="1.3"/>
<circle cx="296.7" cy="230.0" r="1.3"/>
<circle cx="302.6" cy="230.0" r="1.3"/>
<circle cx="308.8" cy="230.7" r="1.3"/>
<circle cx="315.2" cy="230.4" r="1.3"/>
<circle cx="321.3" cy="230.8" r="1.3"/>
<circle cx="328.2" cy="231.3" r="1.3"/>
<circle cx="334.6" cy="231.7" r="1.3"/>
<circle cx="339.8" cy="231.3" r="1.3"/>
<circle cx="345.8" cy="232.1" r="1.3"/>
<circle cx="350.9" cy="232.3" r="1.3"/>
<circle cx="356.1" cy="232.0" r="1.3"/>
<circle cx="360.7" cy="232.0" r="1.3"/>
<circle cx="365.8" cy="232.9" r="1.3"/>
<circle cx="370.4" cy="232.7" r="1.3"/>
<circle cx="374.0" cy="233.2" r="1.3"/>
<circle cx="377.5" cy="233.0" r="1.3"/>
<circle cx="380.2" cy="233.0" r="1.3"/>
<circle cx="383.0" cy="232.7" r="1.3"/>
<circle cx="386.7" cy="233.5" r="1.3"/>
<circle cx="390.0" cy="233.1" r="1.3"/>
<circle cx="393.9" cy="233.3" r="1.3"/>
<circle cx="398.6" cy="233.5" r="1.3"/>
<circle cx="403.2" cy="233.5" r="1.3"/>
<circle cx="407.1" cy="234.0" r="1.3"/>
<circle cx="411.3" cy="234.5" r="1.3"/>
<circle cx="415.3" cy="234.8" r="1.3"/>
<circle cx="418.3" cy="234.1" r="1.3"/>
<circle cx="423.6" cy="234.8" r="1.3"/>
<circle cx="428.0" cy="234.8" r="1.3"/>
<circle cx="431.9" cy="235.6" r="1.3"/>
<circle cx="435.4" cy="235.8" r="1.3"/>
<circle cx="439.3" cy="236.2" r="1.3"/>
<circle cx="443.2" cy="237.8" r="1.3"/>
<circle cx="445.9" cy="238.4" r="1.3"/>
<circle cx="449.2" cy="239.9" r="1.3"/>
<circle cx="451.8" cy="242.1" r="1.3"/>
<circle cx="454.9" cy="243.1" r="1.3"/>
<circle cx="458.6" cy="245.0" r="1.3"/>
<circle cx="461.3" cy="245.5" r="1.3"/>
<circle cx="464.5" cy="245.9" r="1.3"/>
<circle cx="86.5" cy="34.9" r="1.3"/>
<circle cx="86.4" cy="37.3" r="1.3"/>
<circle cx="87.5" cy="29.8" r="1.3"/>
<circle cx="89.3" cy="30.5" r="1.3"/>
<circle cx="91.0" cy="31.4" r="1.3"/>
<circle cx="92.3" cy="32.3" r="1.3"/>
<circle cx="107.7" cy="143.4" r="1.3"/>
<circle cx="156.2" cy="146.2" r="1.3"/>
<circle cx="210.5" cy="145.5" r="1.3"/>
<circle cx="107.9" cy="203.2" r="1.3"/>
<circle cx="108.3" cy="205.5" r="1.3"/>
<circle cx="105.6" cy="249.5" r="1.3"/>
<circle cx="105.9" cy="253.0" r="1.3"/>
<circle cx="107.9" cy="302.0" r="1.3"/>
<circle cx="156.4" cy="200.3" r="1.3"/>
<circle cx="156.9" cy="203.0" r="1.3"/>
<circle cx="154.9" cy="247.5" r="1.3"/>
<circle cx="187.8" cy="199.6" r="1.3"/>
<circle cx="188.2" cy="202.0" r="1.3"/>
<circle cx="211.0" cy="200.5" r="1.3"/>
<circle cx="211.4" cy="203.0" r="1.3"/>
<circle cx="229.4" cy="209.5" r="1.3"/>
</g>
<rect x="284" y="277.2" width="235.3" height="46.6" fill="#fff" stroke="#000" stroke-width="1.2"/>
<circle cx="331.1" cy="292.5" r="1.5" fill="#fff" stroke="#000" stroke-width="0.8"/>
<path d="M311.7 313.3 H350.4" stroke="#000" stroke-width="1.3"/>
<g font-family="'Liberation Sans', Arial, sans-serif" fill="#000" stroke="#000" stroke-linejoin="round">
<text transform="translate(356.3,297.4) scale(1.05,1)" font-size="16.3px" text-anchor="start" stroke-width="0.4">Experimental Data</text>
<text transform="translate(356.3,318.2) scale(1.05,1)" font-size="16.3px" text-anchor="start" stroke-width="0.4">Model</text>
<text transform="translate(203.6,393.9) scale(1.05,1)" font-size="16.3px" text-anchor="start" stroke-width="0.4">log(wavenumber), cm<tspan font-size="10px" dx="1.5" dy="-7.6">-1</tspan></text>
<text transform="translate(12.6,131.6) rotate(-90) scale(1.05,1)" font-size="16.3px" text-anchor="start" stroke-width="0.4">Psi, degrees</text>
<text transform="translate(12.6,330.4) rotate(-90) scale(1.08,1)" font-size="16.3px" text-anchor="start" stroke-width="0.4">Delta, degrees</text>
<text transform="translate(69.2,14.2) scale(1.05,1)" font-size="16.3px" text-anchor="start" stroke-width="0.4">(a)</text>
<text transform="translate(69.2,205.4) scale(1.05,1)" font-size="16.3px" text-anchor="start" stroke-width="0.4">(b)</text>
<text transform="translate(63.9,175.4) scale(1.1,1)" font-size="12.4px" text-anchor="middle" stroke-width="0.45">2.5</text>
<text transform="translate(164.9,175.4) scale(1.1,1)" font-size="12.4px" text-anchor="middle" stroke-width="0.45">3.0</text>
<text transform="translate(266.0,175.4) scale(1.1,1)" font-size="12.4px" text-anchor="middle" stroke-width="0.45">3.5</text>
<text transform="translate(367.0,175.4) scale(1.1,1)" font-size="12.4px" text-anchor="middle" stroke-width="0.45">4.0</text>
<text transform="translate(468.0,175.4) scale(1.1,1)" font-size="12.4px" text-anchor="middle" stroke-width="0.45">4.5</text>
<text transform="translate(63.9,366.4) scale(1.1,1)" font-size="12.4px" text-anchor="middle" stroke-width="0.45">2.5</text>
<text transform="translate(164.9,366.4) scale(1.1,1)" font-size="12.4px" text-anchor="middle" stroke-width="0.45">3.0</text>
<text transform="translate(266.0,366.4) scale(1.1,1)" font-size="12.4px" text-anchor="middle" stroke-width="0.45">3.5</text>
<text transform="translate(367.0,366.4) scale(1.1,1)" font-size="12.4px" text-anchor="middle" stroke-width="0.45">4.0</text>
<text transform="translate(468.0,366.4) scale(1.1,1)" font-size="12.4px" text-anchor="middle" stroke-width="0.45">4.5</text>
<text transform="translate(52.6,151.3) scale(1.1,1)" font-size="12.4px" text-anchor="end" stroke-width="0.45">0</text>
<text transform="translate(52.6,118.0) scale(1.1,1)" font-size="12.4px" text-anchor="end" stroke-width="0.45">5</text>
<text transform="translate(52.6,84.7) scale(1.1,1)" font-size="12.4px" text-anchor="end" stroke-width="0.45">10</text>
<text transform="translate(52.6,51.4) scale(1.1,1)" font-size="12.4px" text-anchor="end" stroke-width="0.45">15</text>
<text transform="translate(52.6,18.1) scale(1.1,1)" font-size="12.4px" text-anchor="end" stroke-width="0.45">20</text>
<text transform="translate(52.6,340.6) scale(1.1,1)" font-size="12.4px" text-anchor="end" stroke-width="0.45">-200</text>
<text transform="translate(52.6,311.7) scale(1.1,1)" font-size="12.4px" text-anchor="end" stroke-width="0.45">-100</text>
<text transform="translate(52.6,282.7) scale(1.1,1)" font-size="12.4px" text-anchor="end" stroke-width="0.45">0</text>
<text transform="translate(52.6,253.7) scale(1.1,1)" font-size="12.4px" text-anchor="end" stroke-width="0.45">100</text>
<text transform="translate(52.6,224.8) scale(1.1,1)" font-size="12.4px" text-anchor="end" stroke-width="0.45">200</text>
<text transform="translate(52.6,195.8) scale(1.1,1)" font-size="12.4px" text-anchor="end" stroke-width="0.45">300</text>
</g>
</svg>
</body></html>
